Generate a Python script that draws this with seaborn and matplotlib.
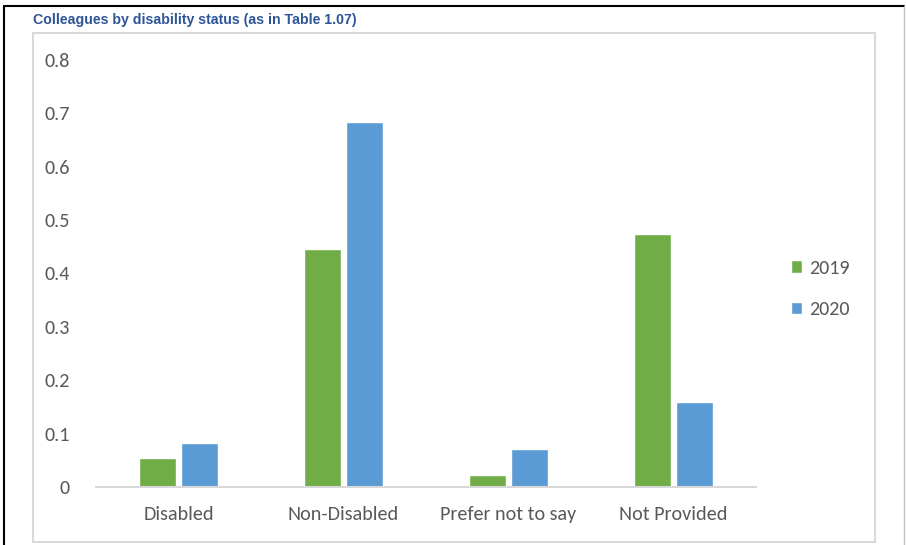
import matplotlib
matplotlib.use("Agg")
import matplotlib.pyplot as plt
import seaborn as sns
import pandas as pd
from matplotlib.patches import Rectangle
from matplotlib.lines import Line2D

categories = ["Disabled", "Non-Disabled", "Prefer not to say", "Not Provided"]
values_2019 = [0.054, 0.446, 0.022, 0.474]
values_2020 = [0.082, 0.684, 0.071, 0.159]
years = ["2019", "2020"]
yticks = [0, 0.1, 0.2, 0.3, 0.4, 0.5, 0.6, 0.7, 0.8]
ytick_labels = ["0", "0.1", "0.2", "0.3", "0.4", "0.5", "0.6", "0.7", "0.8"]

df = pd.DataFrame({
    "category": categories * 2,
    "value": values_2019 + values_2020,
    "year": [years[0]] * 4 + [years[1]] * 4,
})

sns.set_style("white")
plt.rcParams["font.family"] = ["Carlito", "Lato", "DejaVu Sans"]

fig = plt.figure(figsize=(9.06, 5.45), dpi=100)
ax = fig.add_axes([96/906, 1-487/545, 660/906, 427/545])

sns.barplot(data=df, x="category", y="value", hue="year", order=categories,
            hue_order=years, palette=["#70AD47", "#5B9BD5"], width=0.51, gap=0.12,
            saturation=1, ax=ax, legend=True)

ax.set_xlim(-0.5, 3.5)
ax.set_ylim(0, 0.8)
ax.set_yticks(yticks)
ax.set_yticklabels(ytick_labels)
ax.set_xlabel("")
ax.set_ylabel("")
for s in ["top", "right", "left"]:
    ax.spines[s].set_visible(False)
ax.spines["bottom"].set_color("#D9D9D9")
ax.spines["bottom"].set_linewidth(1.5)
ax.tick_params(axis="both", length=0, labelsize=14.5, colors="#595959")
ax.tick_params(axis="y", pad=19)
ax.tick_params(axis="x", pad=14)

leg = ax.legend(loc="upper left", bbox_to_anchor=(1.025, 0.575), frameon=False,
                fontsize=14.5, handlelength=0.55, handleheight=0.55,
                handletextpad=0.35, labelspacing=1.2)
for t in leg.get_texts():
    t.set_color("#595959")

# inner chart box
fig.patches.append(Rectangle((33/906, 1-542/545), (875-33)/906, (542-33)/545,
                             transform=fig.transFigure, fill=False,
                             edgecolor="#D9D9D9", linewidth=1.5, zorder=0))
# outer frame
fig.add_artist(Line2D([4/906, 4/906], [0, 1-6/545], transform=fig.transFigure,
                      color="black", linewidth=1.5))
fig.add_artist(Line2D([4/906, 904/906], [1-6/545, 1-6/545], transform=fig.transFigure,
                      color="black", linewidth=1.5))
fig.add_artist(Line2D([904/906, 904/906], [0, 1-6/545], transform=fig.transFigure,
                      color="#BFBFBF", linewidth=1.0))

fig.text(33/906, 1-20/545, "Colleagues by disability status (as in Table 1.07)",
         fontsize=10.2, fontweight="bold", color="#2F5597", va="center", ha="left",
         family=["Liberation Sans", "DejaVu Sans"])

fig.savefig("out.png", dpi=100)
